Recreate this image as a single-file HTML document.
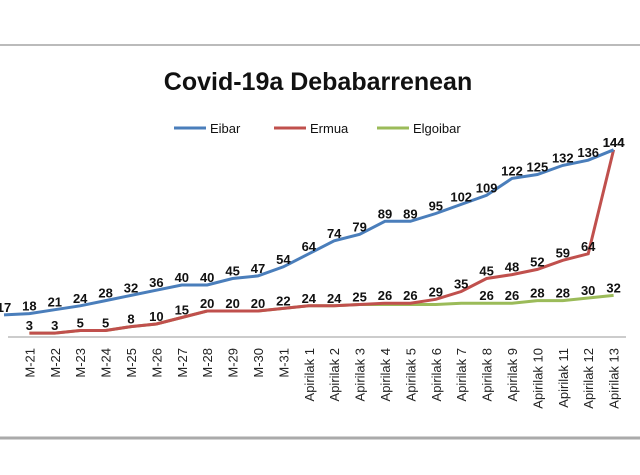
<!DOCTYPE html>
<html><head><meta charset="utf-8"><style>
body{margin:0;background:#fff;width:640px;height:470px;overflow:hidden;font-family:"Liberation Sans",sans-serif}
</style></head><body>
<svg width="640" height="470" xmlns="http://www.w3.org/2000/svg">
<line x1="0" y1="45" x2="640" y2="45" stroke="#bbb" stroke-width="2"/>
<line x1="0" y1="438" x2="640" y2="438" stroke="#aaa" stroke-width="3"/>
<text x="318" y="90" text-anchor="middle" font-size="25" font-weight="bold" fill="#111">Covid-19a Debabarrenean</text>
<g font-size="13" fill="#111">
<g><line x1="174" y1="128" x2="206" y2="128" stroke="#4a7ebb" stroke-width="3"/><text x="210" y="133">Eibar</text></g>
<g><line x1="274" y1="128" x2="306" y2="128" stroke="#c0504d" stroke-width="3"/><text x="310" y="133">Ermua</text></g>
<g><line x1="377" y1="128" x2="409" y2="128" stroke="#9bbb59" stroke-width="3"/><text x="413" y="133">Elgoibar</text></g>
</g>
<line x1="8" y1="337" x2="626" y2="337" stroke="#999" stroke-width="1"/>
<g id="plot"></g>
</svg>
<script>
const categories=["","M-21","M-22","M-23","M-24","M-25","M-26","M-27","M-28","M-29","M-30","M-31","Apirilak 1","Apirilak 2","Apirilak 3","Apirilak 4","Apirilak 5","Apirilak 6","Apirilak 7","Apirilak 8","Apirilak 9","Apirilak 10","Apirilak 11","Apirilak 12","Apirilak 13"];
const eibar=[17,18,21,24,28,32,36,40,40,45,47,54,64,74,79,89,89,95,102,109,122,125,132,136,144];
const ermua=[null,3,3,5,5,8,10,15,20,20,20,22,24,24,25,26,26,29,35,45,48,52,59,64,144];
const elgoibar=[null,3,3,5,5,8,10,15,20,20,20,22,24,24,25,25,25,25,26,26,26,28,28,30,32];
const elgoibarLabelFrom=19;
const NS="http://www.w3.org/2000/svg";
const g=document.getElementById('plot');
function xs(i){return 4+i*25.4;}
function ys(v){return 337-v*1.3;}
categories.forEach((c,i)=>{if(!c)return;
 const t=document.createElementNS(NS,'text');
 
 
 t.setAttribute('transform',`translate(${xs(i)+5},348) rotate(-90)`);
 t.setAttribute('text-anchor','end');t.setAttribute('font-size','13');t.setAttribute('fill','#222');
 t.textContent=c;g.appendChild(t);});
function series(arr,color,name,labelFrom){
 const pts=[];arr.forEach((v,i)=>{if(v!=null)pts.push(xs(i)+','+ys(v));});
 const p=document.createElementNS(NS,'polyline');
 
 
 p.setAttribute('points',pts.join(' '));p.setAttribute('fill','none');p.setAttribute('stroke',color);p.setAttribute('stroke-width','3');
 g.appendChild(p);
 return ()=>arr.forEach((v,i)=>{if(v==null||i<labelFrom)return;
  const t=document.createElementNS(NS,'text');
  
  
  t.setAttribute('x',xs(i));t.setAttribute('y',ys(v)-3);t.setAttribute('text-anchor','middle');
  t.setAttribute('font-size','13');t.setAttribute('font-weight','bold');t.setAttribute('fill','#111');
  t.textContent=v;g.appendChild(t);});
}
const l3=series(elgoibar,'#9bbb59','elgoibar',elgoibarLabelFrom);
const l2=series(ermua,'#c0504d','ermua',0);
const l1=series(eibar,'#4a7ebb','eibar',0);
l3();l2();l1();
</script>
</body></html>
